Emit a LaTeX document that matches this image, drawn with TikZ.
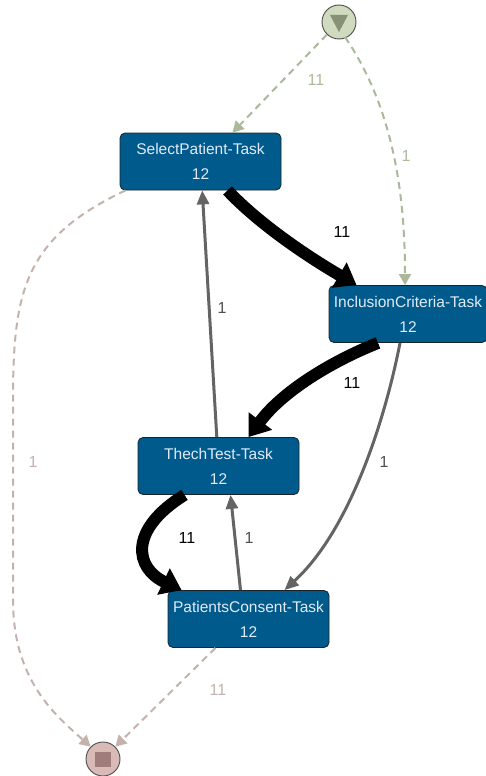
\documentclass[tikz,border=0pt]{standalone}
\usepackage{fontspec}
\setmainfont{Liberation Sans}
\usetikzlibrary{arrows.meta}
\definecolor{taskblue}{RGB}{0,90,140}
\definecolor{taskedge}{RGB}{25,35,45}
\definecolor{tasktext}{RGB}{225,235,245}
\definecolor{startfill}{RGB}{208,218,190}
\definecolor{startmark}{RGB}{135,145,118}
\definecolor{endfill}{RGB}{218,186,183}
\definecolor{endmark}{RGB}{160,125,122}
\definecolor{startline}{RGB}{170,185,155}
\definecolor{endline}{RGB}{196,178,172}
\definecolor{backline}{RGB}{100,100,100}
\tikzset{
  task/.style ={draw=taskedge, fill=taskblue, text=tasktext, rounded corners=5pt,
    minimum width=161pt, minimum height=57pt, inner xsep=1pt, align=center,
    line width=0.8pt, font=\fontsize{15.5}{25}\selectfont},
  event/.style ={draw=black!70, circle, minimum size=34pt, inner sep=0pt, line width=0.9pt},
  lbl/.style ={font=\fontsize{16}{18}\selectfont},
  heavy/.style ={draw=black, line width=12pt, -{Triangle[length=20pt,width=28pt]}},
  light/.style ={draw=backline, line width=3pt, -{Triangle[length=14pt,width=12pt]}},
  startflow/.style ={draw=startline, line width=2pt, dash pattern=on 7pt off 5pt,
    -{Triangle[length=11pt,width=12pt]}},
  endflow/.style ={draw=endline, line width=2pt, dash pattern=on 7pt off 5pt,
    -{Triangle[length=11pt,width=12pt]}}
}

\begin{document}
\begin{tikzpicture}[x=1pt,y=-1pt]
 \useasboundingbox (0,0) rectangle (485,776);
 % start and end events
 \node[event, fill=startfill] (start) at (339,22) {};
 \fill[startmark] ([shift={(-9,-7)}]start.center) -- ([shift={(9,-7)}]start.center)
   -- ([shift={(0,10)}]start.center) -- cycle;
 \node[event, fill=endfill] (end) at (103,759) {};
 \fill[endmark] ([shift={(-8,-7)}]end.center) rectangle ([shift={(8,8)}]end.center);

 % tasks
 \node[task] (select) at (200.5,161.5) {SelectPatient-Task\\12};
 \node[task, minimum width=158pt] (inclusion) at (408,314) {InclusionCriteria-Task\\12};
 \node[task] (techtest) at (218.5,466) {ThechTest-Task\\12};
 \node[task] (consent) at (248.5,619) {PatientsConsent-Task\\12};

 % flows out of start
 \path[startflow] (start) -- ([xshift=32]select.north);
 \node[lbl, text=startline] (l0) at (316,80) {11};
 \path[startflow] ([shift={(6,15)}]start.center) .. controls (395,110) and (405,200)
   .. ([xshift=-3]inclusion.north);
 \node[lbl, text=startline] (l9) at (406,156) {1};

 % main flows
 \path[heavy] ([xshift=27]select.south) .. controls (260,225) and (310,258)
   .. ([xshift=28]inclusion.north west);
 \node[lbl] (l1) at (342,232) {11};
 \path[heavy] ([xshift=-30]inclusion.south) .. controls (330,362) and (282,392)
   .. ([xshift=30]techtest.north);
 \node[lbl] (l2) at (352,383) {11};
 \path[heavy] ([xshift=-34]techtest.south) .. controls (128,530) and (135,568)
   .. ([xshift=14]consent.north west);
 \node[lbl] (l3) at (187,538) {11};

 % back and side flows
 \path[light] (techtest) -- (select);
 \node[lbl, text=backline!80!black] (l4) at (222,308) {1};
 \path[light] ([xshift=-8]consent.north) -- ([xshift=12]techtest.south);
 \node[lbl, text=backline!80!black] (l5) at (249,538) {1};
 \path[light] ([xshift=-8]inclusion.south) .. controls (385,420) and (350,530)
   .. ([xshift=36]consent.north);
 \node[lbl, text=backline!80!black] (l6) at (384,462) {1};

 % flows into end
 \path[endflow] ([xshift=-75]select.south) .. controls (25,238) and (13,290) .. (13,400)
   -- (13,600) .. controls (13,680) and (55,715) .. (end.north west);
 \node[lbl, text=endline] (l7) at (33,462) {1};
 \path[endflow] ([xshift=-33]consent.south) -- (end.north east);
 \node[lbl, text=endline] (l8) at (218,690) {11};
\end{tikzpicture}
\end{document}
